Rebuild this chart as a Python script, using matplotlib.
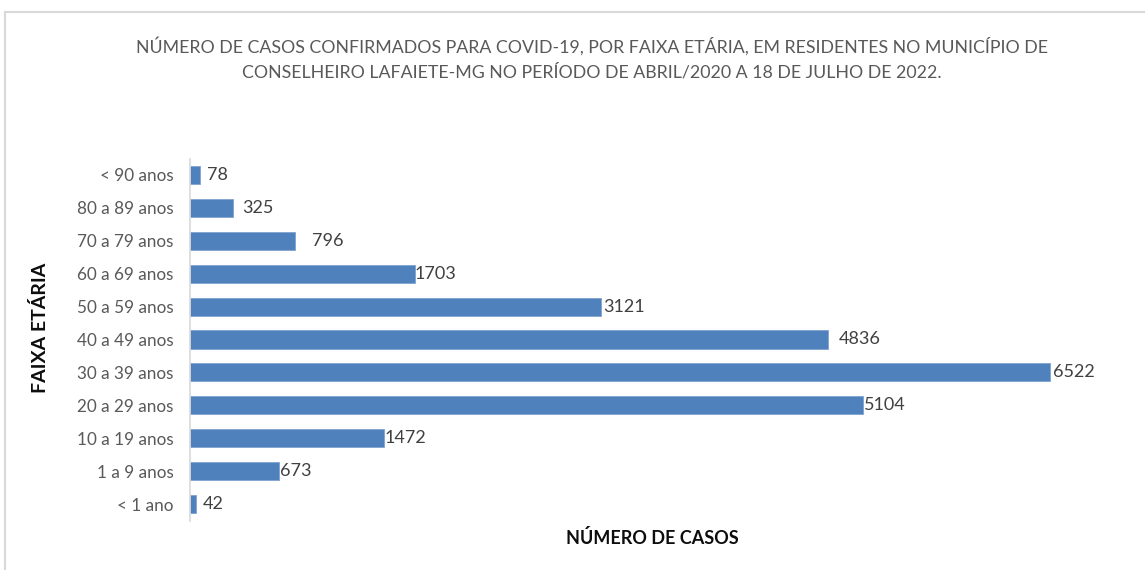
import matplotlib.pyplot as plt
from matplotlib.lines import Line2D

# Data
faixas = ["< 1 ano", "1 a 9 anos", "10 a 19 anos", "20 a 29 anos", "30 a 39 anos",
          "40 a 49 anos", "50 a 59 anos", "60 a 69 anos", "70 a 79 anos",
          "80 a 89 anos", "< 90 anos"]
casos = [42, 673, 1472, 5104, 6522, 4836, 3121, 1703, 796, 325, 78]

# label gaps (points) - excel places them a bit unevenly
gaps = [5, 1, 0, 1, 2, 8, 1, 0, 12, 7, 5]

plt.rcParams['font.family'] = ['Lato', 'DejaVu Sans']

fig = plt.figure(figsize=(11.45, 5.7), dpi=100)
ax = fig.add_axes([190 / 1145, 1 - 520.5 / 570, (1112.8 - 190) / 1145, (520.5 - 158.5) / 570])

ypos = range(len(faixas))
ax.barh(ypos, casos, height=0.55, color="#4F81BD", edgecolor="#7FA3D0", linewidth=0.6)

for y, v, g in zip(ypos, casos, gaps):
    ax.annotate(str(v), (v, y), xytext=(g, 0), textcoords="offset points",
                ha="left", va="center", fontsize=13, color="#404040")

ax.set_xlim(0, 7000)
ax.set_ylim(-0.5, len(faixas) - 0.5)
ax.set_yticks(list(ypos))
ax.set_yticklabels(faixas, fontsize=12.3, color="#595959")
ax.tick_params(axis="y", length=0, pad=12)
ax.set_xticks([])
for s in ["top", "right", "bottom"]:
    ax.spines[s].set_visible(False)
ax.spines["left"].set_color("#D9D9D9")
ax.spines["left"].set_linewidth(1.2)

fig.text(592 / 1145, 1 - 46 / 570, "NÚMERO DE CASOS CONFIRMADOS PARA COVID-19, POR FAIXA ETÁRIA, EM RESIDENTES NO MUNICÍPIO DE",
         ha="center", va="center", fontsize=12.8, color="#595959")
fig.text(592 / 1145, 1 - 72 / 570, "CONSELHEIRO LAFAIETE-MG NO PERÍODO DE ABRIL/2020 A 18 DE JULHO DE 2022.",
         ha="center", va="center", fontsize=12.8, color="#595959")

fig.text(40 / 1145, 1 - 328 / 570, "FAIXA ETÁRIA", rotation=90, ha="center", va="center",
         fontsize=14, fontweight="bold", color="#0D0D0D")
fig.text(652 / 1145, 1 - 538 / 570, "NÚMERO DE CASOS", ha="center", va="center",
         fontsize=13, fontweight="bold", color="#0D0D0D")

# chart border (top and left visible in the crop)
fig.add_artist(Line2D([5 / 1145, 1], [1 - 12 / 570, 1 - 12 / 570], transform=fig.transFigure,
                      color="#D9D9D9", linewidth=1.5))
fig.add_artist(Line2D([5 / 1145, 5 / 1145], [0, 1 - 12 / 570], transform=fig.transFigure,
                      color="#D9D9D9", linewidth=1.5))

fig.savefig("out.png", dpi=100)
